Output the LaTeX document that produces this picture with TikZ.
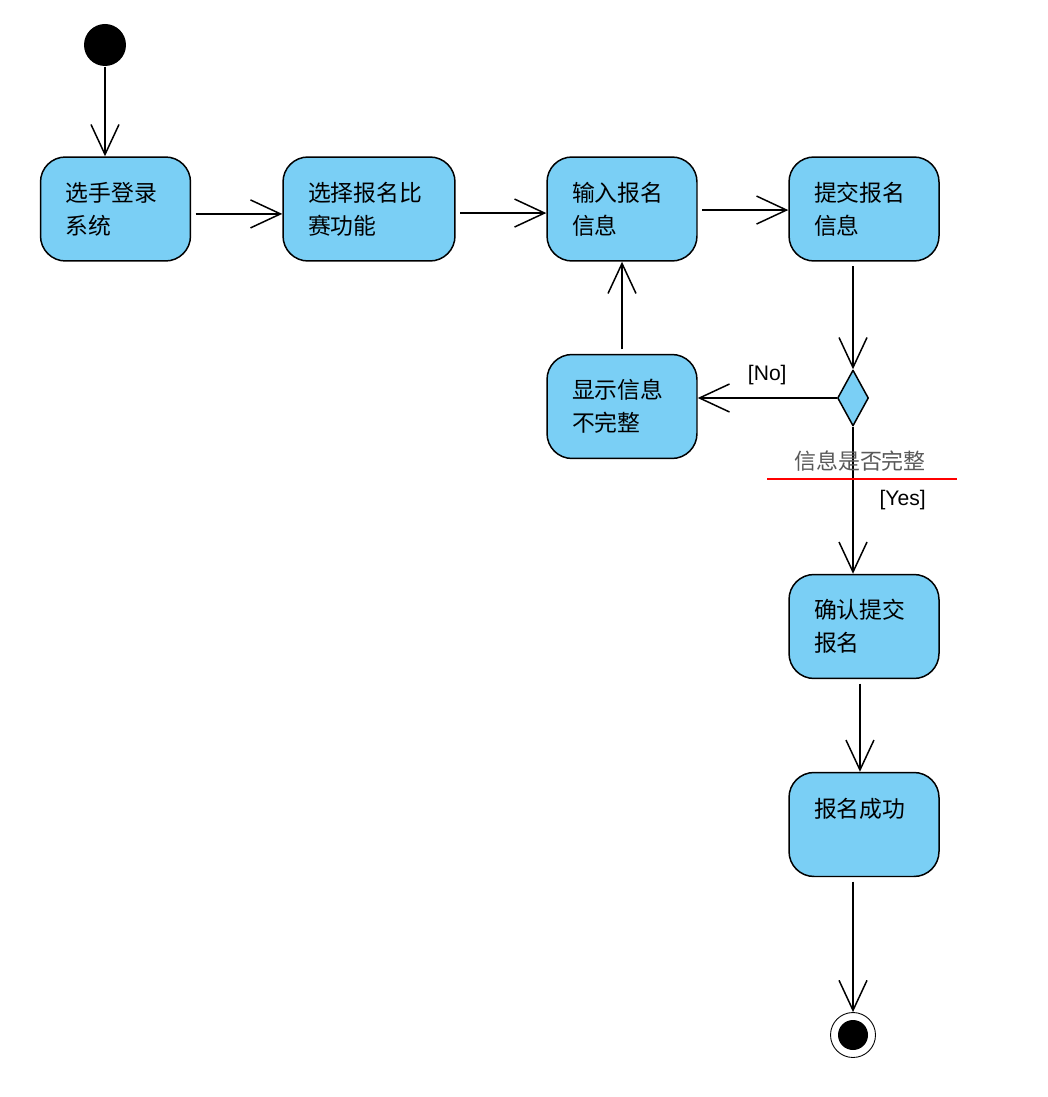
\documentclass[tikz,border=0pt]{standalone}
\usepackage{fontspec}
\setmainfont{Liberation Sans}
\newfontfamily\cjk{Noto Sans CJK SC}
\usetikzlibrary{arrows.meta,shapes.geometric}
\definecolor{actblue}{RGB}{122,207,245}
\tikzset{uml/.style={
  x={(0.02cm,0cm)},
  y={(0cm,-0.02cm)},
  >={Straight Barb[length=0.6cm,width=0.56cm]},line width=0.85pt,line join=round
},
act/.style={draw,fill=actblue,rounded corners=0.5cm,minimum height=2.08cm,
  text width=2cm,inner xsep=0.5cm,align=left,font=\cjk\fontsize{13}{18.7}\selectfont},
flow/.style={->,shorten <=2.5pt},
guard/.style={font=\fontsize{12}{14}\selectfont}
}

\begin{document}
\begin{tikzpicture}[uml]
  \useasboundingbox (0,0) rectangle (1047,1097);
  \node[circle,fill=black,minimum size=0.84cm,inner sep=0] (start) at (105,45) {};
  \node[act] (login) at (115.5,209) {选手登录\\系统};
  \node[act,text width=2.44cm] (pick) at (369,209) {选择报名比\\赛功能};
  \node[act] (input) at (622,209) {输入报名\\信息};
  \node[act] (submit) at (864,209) {提交报名\\信息};
  \node[act] (warn) at (622,406.5) {显示信息\\不完整};
  \node[diamond,draw,fill=actblue,minimum width=0.62cm,minimum height=1.12cm,inner sep=0] (check) at (853,398) {};
  \node[act] (confirm) at (864,626.5) {确认提交\\报名};
  \node[act] (done) at (864,824.5) {报名成功\\~};
  \node[circle,draw,fill=white,line width=0.5pt,minimum size=0.9cm,inner sep=0] (stop) at (853,1035) {};
  \node[circle,fill=black,minimum size=0.6cm,inner sep=0] at (stop) {};
  \draw[->] (start) -- (start |- login.north);
  \draw[flow] ([yshift=-2.8pt]login.east) -- ([yshift=-2.8pt]pick.west);
  \draw[flow] ([yshift=-2.3pt]pick.east) -- ([yshift=-2.3pt]input.west);
  \draw[flow] ([yshift=-0.6pt]input.east) -- ([yshift=-0.6pt]submit.west);
  \draw[flow] (submit.south -| check) -- (check.north);
  \draw[->] (check.west) -- (check.west -| warn.east)
    node[guard,midway,above=0.14cm] {[No]};
  \draw[flow] (warn.north) -- (input.south);
  \draw[->] (check.south) -- (check.south |- confirm.north)
    node[guard,midway,right=0.4cm] {[Yes]};
  \draw[flow] ([xshift=-2.3pt]confirm.south) -- ([xshift=-2.3pt]done.north);
  \draw[flow] (done.south -| stop) -- (stop.north);
  \node[text=black!65,font=\cjk\fontsize{12.5}{14}\selectfont] (name) at (860,461) {信息是否完整};
  \draw[red,line width=1.3pt] (767,479) -- (957,479);
\end{tikzpicture}
\end{document}
